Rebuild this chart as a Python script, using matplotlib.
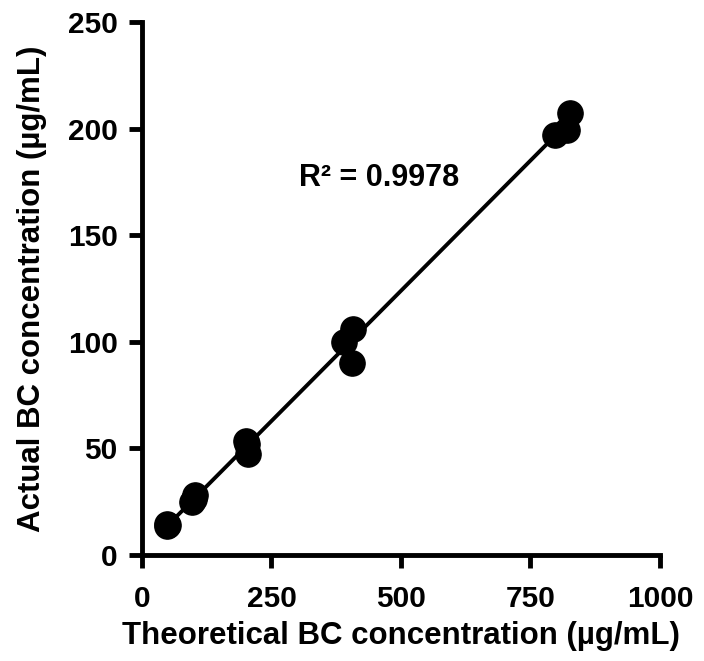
import numpy as np
import matplotlib.pyplot as plt

plt.rcParams['font.family'] = ['Liberation Sans', 'DejaVu Sans']
plt.rcParams['font.weight'] = 'bold'

# Theoretical vs actual BC concentration (µg/mL)
theoretical = [48, 48, 50, 97, 100, 102, 200, 202, 205, 408, 389, 405, 826, 797, 820]
actual = [13.6, 14.5, 14.0, 25.0, 26.5, 28.0, 53.5, 52.0, 47.5, 106.0, 100.0, 90.0, 207.5, 197.0, 199.5]

x_ticks = [0, 250, 500, 750, 1000]
y_ticks = [0, 50, 100, 150, 200, 250]
r2_text = "R² = 0.9978"

fig = plt.figure(figsize=(7.04, 6.61), dpi=100)
ax = fig.add_axes([0.2017, 0.1604, 0.7358, 0.806])

# regression line over the data range
slope, intercept = np.polyfit(theoretical, actual, 1)
xs = np.array([min(theoretical), max(theoretical)])
ax.plot(xs, slope * xs + intercept, color="black", lw=2.8, zorder=2)

ax.scatter(theoretical, actual, s=330, color="black", zorder=3, clip_on=False)

ax.text(458, 177, r2_text, ha="center", va="center", fontsize=22, fontweight="bold")

ax.set_xlim(0, 1000)
ax.set_ylim(0, 250)
ax.set_xticks(x_ticks)
ax.set_yticks(y_ticks)

for side in ["top", "right"]:
    ax.spines[side].set_visible(False)
for side in ["left", "bottom"]:
    ax.spines[side].set_linewidth(3.5)

ax.tick_params(width=3.5, length=9.5, labelsize=21.5)
ax.tick_params(axis="y", pad=8)
ax.tick_params(axis="x", pad=12)
for lbl in ax.get_xticklabels() + ax.get_yticklabels():
    lbl.set_fontweight("bold")

ax.set_xlabel("Theoretical BC concentration (µg/mL)", fontsize=22.5, fontweight="bold", labelpad=6)
ax.set_ylabel("Actual BC concentration (µg/mL)", fontsize=22.5, fontweight="bold", labelpad=15)

fig.savefig("out.png", dpi=100)
